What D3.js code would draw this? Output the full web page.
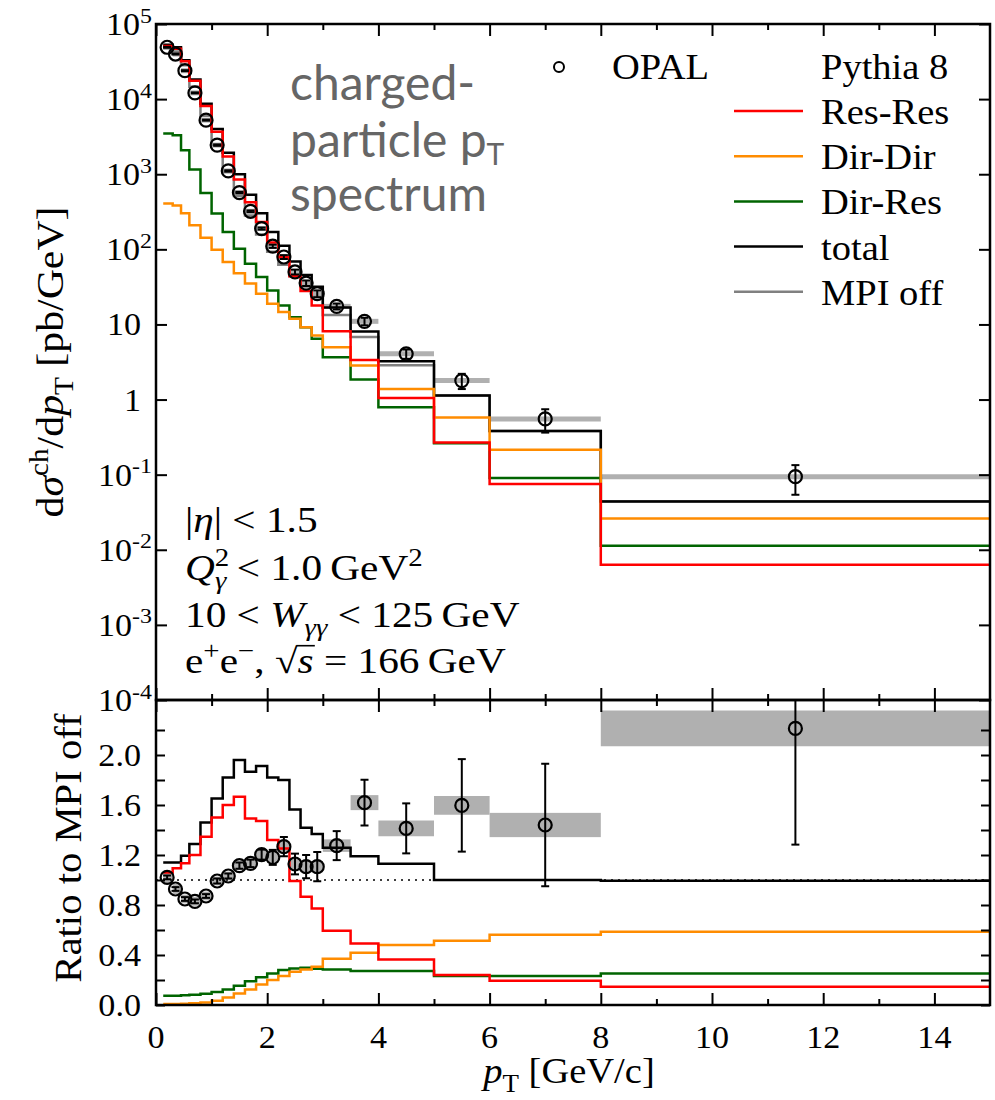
<!DOCTYPE html>
<html>
<head>
<meta charset="utf-8">
<script src="https://cdn.jsdelivr.net/npm/d3@7"></script>
<style>
  body { margin: 0; background: #fff; }
  svg text { font-family: "Liberation Serif", "Times New Roman", serif; fill: #000; }
</style>
</head>
<body>
<div id="chart"></div>
<script>

// bin edges in pT [GeV/c]
var binEdges = [0.13, 0.3, 0.45, 0.6, 0.8, 1.0, 1.2, 1.4, 1.6, 1.8, 2.0, 2.2, 2.4, 2.6, 2.8, 3.0, 3.5, 4.0, 5.0, 6.0, 8.0, 15.0];

// upper panel, Pythia 8 dsigma/dpT [pb/GeV]
var resRes = [50900, 47000, 32000, 17500, 8110, 3690, 1717, 852, 422, 231, 123, 78.2, 43.9, 27.8, 17.9, 8.1, 3.35, 1.05, 0.269, 0.075, 0.0063];
var dirDir = [407, 383, 303, 209, 143, 99, 68, 48, 35, 25.7, 18.9, 14.6, 11.9, 9.2, 7.13, 4.98, 2.85, 1.38, 0.578, 0.214, 0.026];
var dirRes = [3490, 3310, 2090, 1155, 562, 299, 170, 102, 64.5, 42.8, 28.4, 17.9, 12.5, 9.2, 6.44, 3.66, 1.85, 0.79, 0.262, 0.0904, 0.0113];
var total = [53000, 48900, 33000, 18300, 8700, 4000, 1930, 1000, 532, 303, 170, 112, 69, 45.5, 31.8, 16.8, 8.07, 3.24, 1.13, 0.38, 0.044];
var mpiOff = [48000, 42900, 28200, 14600, 6020, 2460, 1073, 511, 283, 157, 93, 62.4, 44.3, 32.1, 23.2, 13.4, 6.8, 2.87, 1.13, 0.38, 0.0442];

// lower panel, ratio to MPI off
var ratioResRes = [1.06, 1.095, 1.135, 1.2, 1.347, 1.501, 1.6, 1.667, 1.493, 1.472, 1.32, 1.253, 0.992, 0.867, 0.773, 0.595, 0.493, 0.365, 0.24, 0.195, 0.147];
var ratioDirDir = [0.008, 0.009, 0.011, 0.014, 0.02, 0.035, 0.06, 0.093, 0.125, 0.165, 0.2, 0.232, 0.267, 0.285, 0.307, 0.37, 0.419, 0.48, 0.515, 0.563, 0.587];
var ratioDirRes = [0.075, 0.075, 0.078, 0.082, 0.09, 0.105, 0.125, 0.155, 0.19, 0.222, 0.253, 0.28, 0.293, 0.299, 0.291, 0.285, 0.272, 0.272, 0.232, 0.232, 0.253];
var ratioTotal = [1.141, 1.141, 1.195, 1.288, 1.461, 1.653, 1.821, 1.96, 1.867, 1.912, 1.821, 1.8, 1.565, 1.419, 1.368, 1.259, 1.19, 1.13, 1.0, 1.0, 0.995];

// OPAL data
var opalPt = [0.2, 0.35, 0.52, 0.7, 0.9, 1.1, 1.3, 1.5, 1.7, 1.9, 2.1, 2.3, 2.5, 2.7, 2.9, 3.25, 3.75, 4.5, 5.5, 7.0, 11.5];
var opalXsec = [49000, 39800, 23900, 12100, 5250, 2440, 1107, 570, 321, 189, 110, 79, 50, 35.5, 25.7, 17.4, 11.0, 4.06, 1.79, 0.553, 0.094];
var opalStat = [700, 600, 360, 180, 80, 50, 22, 12, 8, 6, 5.5, 4.7, 3.7, 3.0, 2.7, 1.6, 1.25, 0.57, 0.41, 0.19, 0.04];
var opalRatio = [1.021, 0.928, 0.848, 0.829, 0.872, 0.992, 1.032, 1.115, 1.133, 1.203, 1.181, 1.267, 1.128, 1.107, 1.107, 1.275, 1.619, 1.413, 1.597, 1.44, 2.213];
var opalRatioErr = [0.015, 0.015, 0.015, 0.015, 0.015, 0.02, 0.02, 0.025, 0.03, 0.04, 0.06, 0.077, 0.083, 0.093, 0.117, 0.116, 0.183, 0.2, 0.37, 0.49, 0.93];
var opalRatioBand = [0.045, 0.04, 0.035, 0.035, 0.035, 0.035, 0.035, 0.035, 0.035, 0.035, 0.04, 0.04, 0.045, 0.045, 0.045, 0.05, 0.06, 0.063, 0.075, 0.097, 0.143];

// axis ticks
var xMajorTicks = [0, 2, 4, 6, 8, 10, 12, 14];
var xMinorTicks = [1, 3, 5, 7, 9, 11, 13];
var decadeTicks = [1e-4, 1e-3, 1e-2, 1e-1, 1, 10, 1e2, 1e3, 1e4, 1e5];
var decadeLabels = [["10", "-4"], ["10", "-3"], ["10", "-2"], ["10", "-1"], ["1", ""], ["10", ""], ["10", "2"], ["10", "3"], ["10", "4"], ["10", "5"]];
var ratioTicks = [0, 0.2, 0.4, 0.6, 0.8, 1.0, 1.2, 1.4, 1.6, 1.8, 2.0, 2.2];
var ratioLabels = [0, 0.4, 0.8, 1.2, 1.6, 2.0];

// layout
var svgWidth = 995;
var svgHeight = 1100;
var plotLeft = 156, plotRight = 990;
var topY0 = 24, topY1 = 700, botY1 = 1005;
var SX = 1.1; // widen serif text a little, like Computer Modern

var svg = d3.select("#chart")
  .append("svg")
  .attr("width", svgWidth)
  .attr("height", svgHeight);

var x = d3.scaleLinear().domain([0, 15]).range([plotLeft, plotRight]);
var yTop = d3.scaleLog().domain([1e-4, 1e5]).range([topY1, topY0]);
var yBot = d3.scaleLinear().domain([0, 2.44]).range([botY1, topY1]);

var defs = svg.append("defs");
defs.append("clipPath").attr("id", "clipTop").append("rect")
  .attr("x", plotLeft).attr("y", topY0).attr("width", plotRight - plotLeft).attr("height", topY1 - topY0);
defs.append("clipPath").attr("id", "clipBot").append("rect")
  .attr("x", plotLeft).attr("y", topY1).attr("width", plotRight - plotLeft).attr("height", botY1 - topY1);

var colors = { resRes: "#ff0000", dirDir: "#ff8c00", dirRes: "#006400", total: "#000000", mpiOff: "#808080" };

// step line points from bins
function stepPoints(vals) {
  var pts = [];
  vals.forEach(function (v, i) {
    pts.push([binEdges[i], v]);
    pts.push([binEdges[i + 1], v]);
  });
  return pts;
}

// text with super/subscripts
function rich(txt, parts, size) {
  var shift = 0;
  parts.forEach(function (p) {
    var target = p.sup ? -0.4 * size : (p.sub ? 0.25 * size : 0);
    var ts = txt.append("tspan").text(p.t);
    if (target - shift !== 0) ts.attr("dy", target - shift);
    if (p.sup || p.sub) ts.attr("font-size", size * 0.7);
    if (p.i) ts.style("font-style", "italic");
    if (p.dx) ts.attr("dx", p.dx);
    if (p.over) {
      // bar over the radicand, drawn as a line in the text's own group
      var bb = ts.node().getBBox();
      d3.select(txt.node().parentNode).append("line")
        .attr("x1", bb.x - 1).attr("x2", bb.x + bb.width + 1)
        .attr("y1", -0.78 * size).attr("y2", -0.78 * size)
        .attr("stroke", "#000").attr("stroke-width", 1.6);
    }
    shift = target;
  });
  return txt;
}

function textAt(x0, y0, size, anchor, rotate, sx) {
  var g = svg.append("g")
    .attr("transform", `translate(${x0},${y0})` + (rotate ? ` rotate(${rotate})` : "") + ` scale(${sx || SX},1)`);
  return g.append("text")
    .attr("font-family", "Liberation Serif, serif")
    .attr("text-anchor", anchor || "start")
    .attr("font-size", size);
}

// ---------------- upper panel ----------------
var topG = svg.append("g").attr("clip-path", "url(#clipTop)");

// OPAL bin bands
topG.selectAll(".bandTop")
  .data(opalXsec)
  .enter()
  .append("line")
  .attr("x1", (d, i) => x(binEdges[i]))
  .attr("x2", (d, i) => x(binEdges[i + 1]))
  .attr("y1", d => yTop(d))
  .attr("y2", d => yTop(d))
  .attr("stroke", "#b0b0b0")
  .attr("stroke-width", 5);

var lineTop = d3.line().x(d => x(d[0])).y(d => yTop(d[1]));
var topSeries = [
  { vals: mpiOff, color: colors.mpiOff },
  { vals: total, color: colors.total },
  { vals: dirRes, color: colors.dirRes },
  { vals: dirDir, color: colors.dirDir },
  { vals: resRes, color: colors.resRes }
];
topSeries.forEach(function (s) {
  topG.append("path")
    .attr("d", lineTop(stepPoints(s.vals)))
    .attr("fill", "none")
    .attr("stroke", s.color)
    .attr("stroke-width", 2.5);
});

// OPAL points
opalPt.forEach(function (p, i) {
  var cx = x(p);
  var lo = yTop(Math.max(opalXsec[i] - opalStat[i], 1e-5));
  var hi = yTop(opalXsec[i] + opalStat[i]);
  topG.append("line").attr("x1", cx).attr("x2", cx).attr("y1", lo).attr("y2", hi)
    .attr("stroke", "#000").attr("stroke-width", 2);
  [lo, hi].forEach(function (yy) {
    topG.append("line").attr("x1", cx - 4).attr("x2", cx + 4).attr("y1", yy).attr("y2", yy)
      .attr("stroke", "#000").attr("stroke-width", 2);
  });
  topG.append("circle").attr("cx", cx).attr("cy", yTop(opalXsec[i])).attr("r", 6.5)
    .attr("fill", "none").attr("stroke", "#000").attr("stroke-width", 2.2);
});

// ---------------- lower panel ----------------
var botG = svg.append("g").attr("clip-path", "url(#clipBot)");

botG.selectAll(".bandBot")
  .data(opalRatio)
  .enter()
  .append("rect")
  .attr("x", (d, i) => x(binEdges[i]))
  .attr("width", (d, i) => x(binEdges[i + 1]) - x(binEdges[i]))
  .attr("y", (d, i) => yBot(d + opalRatioBand[i]))
  .attr("height", (d, i) => yBot(d - opalRatioBand[i]) - yBot(d + opalRatioBand[i]))
  .attr("fill", "#b0b0b0");

botG.append("line")
  .attr("x1", plotLeft).attr("x2", plotRight)
  .attr("y1", yBot(1)).attr("y2", yBot(1))
  .attr("stroke", "#000").attr("stroke-width", 1.5)
  .attr("stroke-dasharray", "2,5");

var lineBot = d3.line().x(d => x(d[0])).y(d => yBot(d[1]));
var botSeries = [
  { vals: ratioTotal, color: colors.total },
  { vals: ratioDirRes, color: colors.dirRes },
  { vals: ratioDirDir, color: colors.dirDir },
  { vals: ratioResRes, color: colors.resRes }
];
botSeries.forEach(function (s) {
  botG.append("path")
    .attr("d", lineBot(stepPoints(s.vals)))
    .attr("fill", "none")
    .attr("stroke", s.color)
    .attr("stroke-width", 2.5);
});

opalPt.forEach(function (p, i) {
  var cx = x(p);
  var lo = yBot(opalRatio[i] - opalRatioErr[i]);
  var hi = yBot(opalRatio[i] + opalRatioErr[i]);
  botG.append("line").attr("x1", cx).attr("x2", cx).attr("y1", lo).attr("y2", hi)
    .attr("stroke", "#000").attr("stroke-width", 2);
  [lo, hi].forEach(function (yy) {
    botG.append("line").attr("x1", cx - 4).attr("x2", cx + 4).attr("y1", yy).attr("y2", yy)
      .attr("stroke", "#000").attr("stroke-width", 2);
  });
  botG.append("circle").attr("cx", cx).attr("cy", yBot(opalRatio[i])).attr("r", 6.5)
    .attr("fill", "none").attr("stroke", "#000").attr("stroke-width", 2.2);
});

// ---------------- axes (ticks inward) ----------------
function tickAxis(axis, tx, ty) {
  var g = svg.append("g").attr("transform", `translate(${tx},${ty})`).call(axis);
  g.select(".domain").remove();
  g.selectAll("line").attr("stroke", "#000").attr("stroke-width", 2);
  g.selectAll("text").remove();
  return g;
}

// x ticks on both panels
[[d3.axisTop, topY0], [d3.axisBottom, topY1], [d3.axisTop, topY1], [d3.axisBottom, botY1]].forEach(function (a) {
  tickAxis(a[0](x).tickValues(xMajorTicks).tickSize(-12), 0, a[1]);
  tickAxis(a[0](x).tickValues(xMinorTicks).tickSize(-6), 0, a[1]);
});

tickAxis(d3.axisLeft(yTop).tickValues(decadeTicks).tickSize(-11), plotLeft, 0);
tickAxis(d3.axisRight(yTop).tickValues(decadeTicks).tickSize(-11), plotRight, 0);
tickAxis(d3.axisLeft(yBot).tickValues(ratioTicks).tickSize(-9), plotLeft, 0);
tickAxis(d3.axisRight(yBot).tickValues(ratioTicks).tickSize(-9), plotRight, 0);

// frames
svg.append("rect").attr("x", plotLeft).attr("y", topY0).attr("width", plotRight - plotLeft).attr("height", topY1 - topY0)
  .attr("fill", "none").attr("stroke", "#000").attr("stroke-width", 2.5);
svg.append("rect").attr("x", plotLeft).attr("y", topY1).attr("width", plotRight - plotLeft).attr("height", botY1 - topY1)
  .attr("fill", "none").attr("stroke", "#000").attr("stroke-width", 2.5);

// tick labels
xMajorTicks.forEach(function (t) {
  textAt(x(t), 1048, 31, "middle").text(t);
});
ratioLabels.forEach(function (t) {
  textAt(141, yBot(t) + 11, 31, "end").text(t.toFixed(1));
});
decadeTicks.forEach(function (t, i) {
  var lab = decadeLabels[i];
  if (lab[1] === "") {
    textAt(141, yTop(t) + 11, 31, "end").text(lab[0]);
  } else {
    rich(textAt(152, yTop(t) + 11, 31, "end"), [{ t: lab[0] }, { t: lab[1], sup: true }], 31);
  }
});

// axis titles
rich(textAt(569, 1083, 35, "middle"), [{ t: "p", i: true }, { t: "T", sub: true }, { t: " [GeV/c]" }], 35);
rich(textAt(63, 362, 38, "middle", -90), [
  { t: "d" }, { t: "σ", i: true }, { t: "ch", sup: true }, { t: "/d" }, { t: "p", i: true },
  { t: "T", sub: true }, { t: " [pb/GeV]" }
], 38);
textAt(81, 848, 37, "middle", -90).text("Ratio to MPI off");

// big grey title
var titleLines = [["charged-", 100], ["particle p", 157], ["spectrum", 211]];
titleLines.forEach(function (l, i) {
  var t = svg.append("text")
    .attr("x", 290).attr("y", l[1])
    .style("font-family", "Lato, sans-serif")
    .style("fill", "#666666")
    .attr("font-size", 48)
    .text(l[0]);
  if (i === 1) {
    t.append("tspan").attr("dy", 8).attr("font-size", 30).text("T");
  }
});

// cuts annotation
var AX = 1.18;
rich(textAt(185, 532, 35, "start", 0, AX), [{ t: "|" }, { t: "η", i: true }, { t: "| < 1.5" }], 35);
rich(textAt(185, 580, 35, "start", 0, AX), [
  { t: "Q", i: true }, { t: "2", sup: true }, { t: "γ", sub: true, i: true, dx: -12 },
  { t: " < 1.0\u2009GeV" }, { t: "2", sup: true }
], 35);
rich(textAt(185, 627, 35, "start", 0, AX), [
  { t: "10 < " }, { t: "W", i: true }, { t: "γγ", sub: true, i: true }, { t: " < 125\u2009GeV" }
], 35);
rich(textAt(185, 673, 35, "start", 0, AX), [
  { t: "e" }, { t: "+", sup: true }, { t: "e" }, { t: "−", sup: true }, { t: ", √" },
  { t: "s", i: true, over: true }, { t: " = 166\u2009GeV" }
], 35);

// legend
svg.append("circle").attr("cx", 559).attr("cy", 67).attr("r", 5)
  .attr("fill", "none").attr("stroke", "#000").attr("stroke-width", 2);
textAt(612, 79, 35, "start").text("OPAL");
textAt(821, 79, 35, "start").text("Pythia 8");

var legendItems = [
  ["Res-Res", colors.resRes],
  ["Dir-Dir", colors.dirDir],
  ["Dir-Res", colors.dirRes],
  ["total", colors.total],
  ["MPI off", colors.mpiOff]
];
legendItems.forEach(function (d, i) {
  var ly = 111 + i * 45.2;
  svg.append("line").attr("x1", 734).attr("x2", 803).attr("y1", ly).attr("y2", ly)
    .attr("stroke", d[1]).attr("stroke-width", 2.5);
  textAt(821, ly + 13, 35, "start").text(d[0]);
});

</script>
</body>
</html>
